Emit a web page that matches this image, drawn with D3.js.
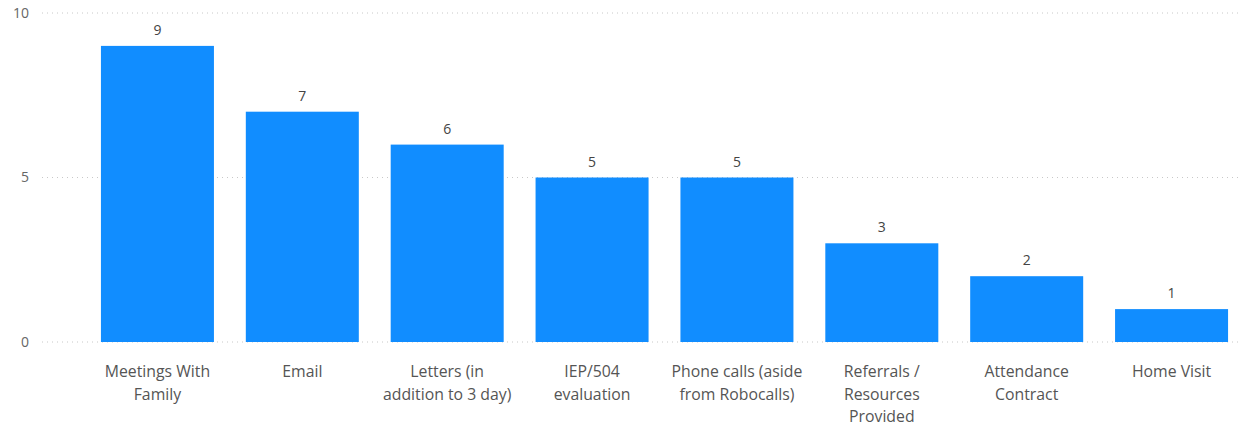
<!DOCTYPE html>
<html><head><meta charset="utf-8">
<script src="https://cdn.jsdelivr.net/npm/d3@7"></script>
<style>body{margin:0;background:#fff;}svg{display:block;font-family:"Open Sans","Noto Sans",sans-serif;}</style>
</head><body><svg id="c" width="1239" height="427"></svg>
<script>
const categories = ["Meetings With Family","Email","Letters (in addition to 3 day)","IEP/504 evaluation","Phone calls (aside from Robocalls)","Referrals / Resources Provided","Attendance Contract","Home Visit"];
const labelLines = [["Meetings With","Family"],["Email"],["Letters (in","addition to 3 day)"],["IEP/504","evaluation"],["Phone calls (aside","from Robocalls)"],["Referrals /","Resources","Provided"],["Attendance","Contract"],["Home Visit"]];
const values = [9,7,6,5,5,3,2,1];
const yTicks = [0,5,10];

const svg = d3.select("#c");
const x = d3.scaleBand().domain(categories).range([85,1244]).paddingInner(0.22).paddingOuter(0.11);
const y = d3.scaleLinear().domain([0,10]).range([342,13]);

// grid
svg.append("g").selectAll("line").data(yTicks).join("line")
  .attr("x1",42).attr("x2",1239).attr("y1",d=>y(d)).attr("y2",d=>y(d))
  .attr("stroke","#c8c8c8").attr("stroke-width",1).attr("stroke-dasharray","1,4");

// y tick labels
svg.append("g").selectAll("text").data(yTicks).join("text")
  .attr("x",29).attr("y",d=>y(d)).attr("dy","0.35em").attr("text-anchor","end")
  .attr("font-size",14).attr("fill","#666").text(d=>d);

// bars
svg.append("g").selectAll("rect").data(values).join("rect")
  .attr("x",(d,i)=>x(categories[i])).attr("width",x.bandwidth())
  .attr("y",d=>y(d)).attr("height",d=>y(0)-y(d)).attr("fill","#118DFF");

// value labels
svg.append("g").selectAll("text").data(values).join("text")
  .attr("x",(d,i)=>x(categories[i])+x.bandwidth()/2).attr("y",d=>y(d)-11)
  .attr("text-anchor","middle").attr("font-size",14).attr("fill","#444").text(d=>d);

// category labels
const cl = svg.append("g").selectAll("text").data(categories).join("text")
  .attr("x",d=>x(d)+x.bandwidth()/2).attr("y",377).attr("text-anchor","middle")
  .attr("font-size",15.8).attr("fill","#555");
cl.each(function(d,i){
  d3.select(this).selectAll("tspan").data(labelLines[i]).join("tspan")
    .attr("x",x(d)+x.bandwidth()/2).attr("dy",(t,j)=>j===0?0:22.5).text(t=>t);
});
</script></body></html>
